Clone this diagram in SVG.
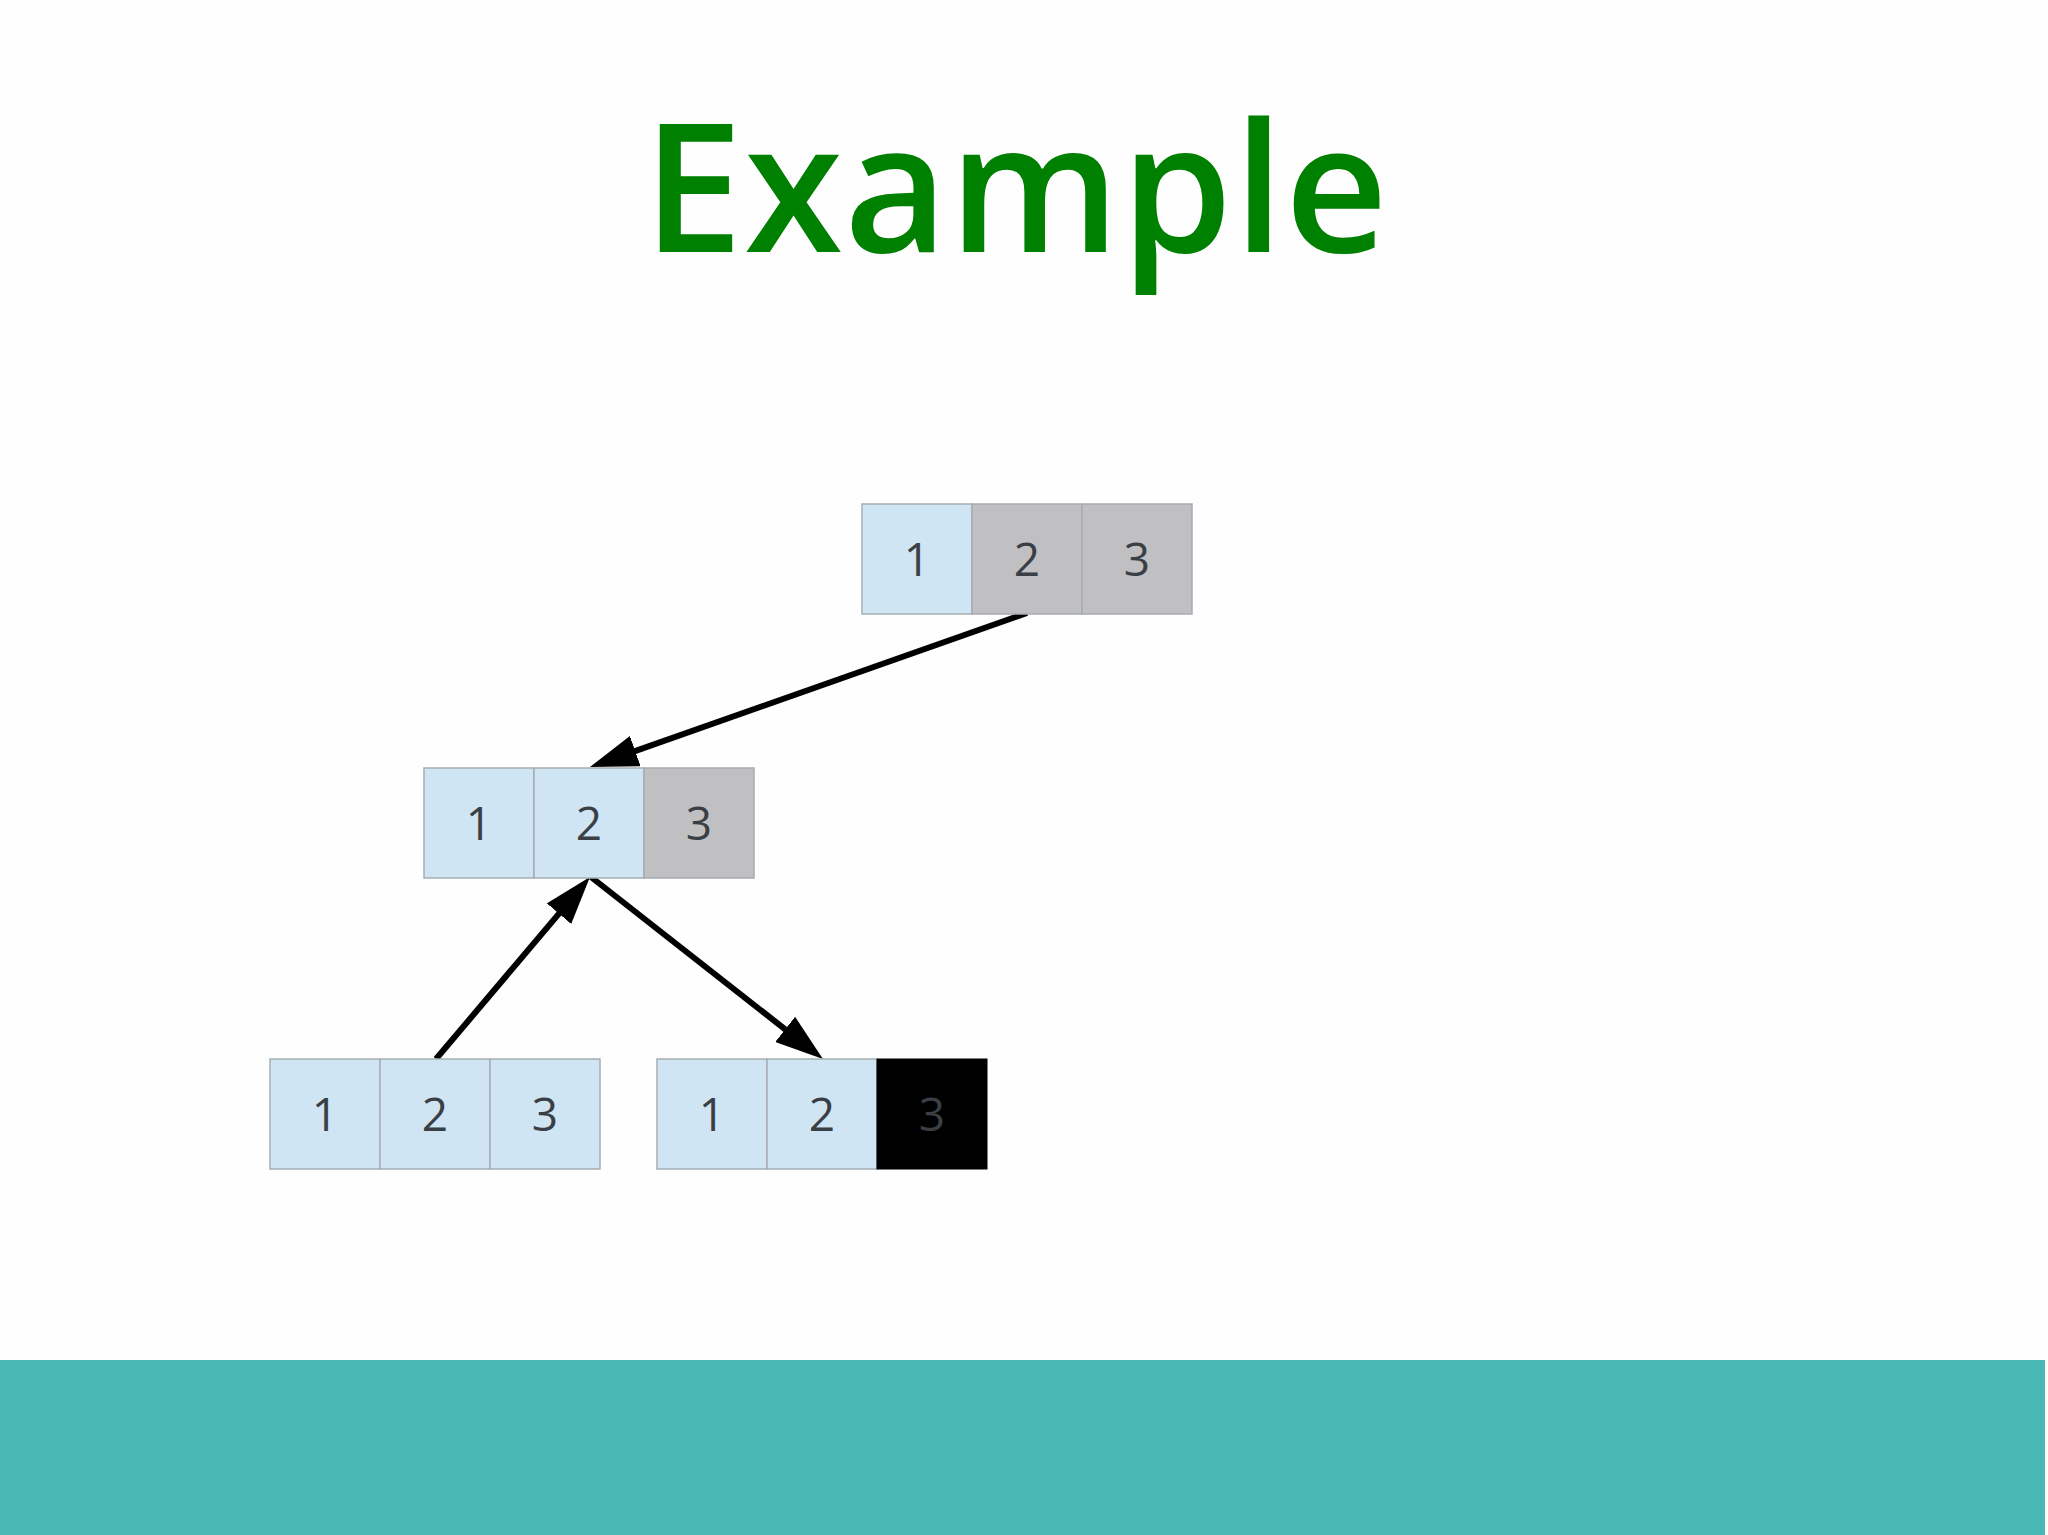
<svg xmlns="http://www.w3.org/2000/svg" width="2048" height="1535" viewBox="0 0 2048 1535">
<style>
.c{stroke:#a7adb3;stroke-width:1.5}
.b{fill:#cfe5f3}
.g{fill:#c0bfc1}
.k{fill:#000;stroke:#000}
.t{font-family:"Open Sans","DejaVu Sans",sans-serif;font-size:46px;fill:#3a3f45;text-anchor:middle}
.e{stroke:#000;stroke-width:6;fill:none;marker-end:url(#ah)}
</style>
<defs>
<marker id="ah" markerUnits="userSpaceOnUse" markerWidth="48" markerHeight="32" refX="38" refY="16" orient="auto" viewBox="0 0 48 32">
<path d="M0,0 L48,16 L0,32 z" fill="#000"/>
</marker>
</defs>
<rect width="2048" height="1535" fill="#fefefe"/>
<text x="643" y="252" font-family="'Open Sans','DejaVu Sans',sans-serif" font-weight="600" font-size="179" fill="#008000" textLength="745" lengthAdjust="spacing">Example</text>
<g id="connectors">
<line class="e" x1="1027" y1="613" x2="599.4" y2="763.7"/>
<line class="e" x1="436" y1="1059" x2="583.5" y2="884.6"/>
<line class="e" x1="591" y1="877" x2="815.1" y2="1052.8"/>
</g>
<g id="node-top">
<rect class="c b" x="862" y="504" width="110" height="110"/>
<rect class="c g" x="972" y="504" width="110" height="110"/>
<rect class="c g" x="1082" y="504" width="110" height="110"/>
<text class="t" x="917" y="576">1</text>
<text class="t" x="1027" y="576">2</text>
<text class="t" x="1137" y="576">3</text>
</g>
<g id="node-mid">
<rect class="c b" x="424" y="768" width="110" height="110"/>
<rect class="c b" x="534" y="768" width="110" height="110"/>
<rect class="c g" x="644" y="768" width="110" height="110"/>
<text class="t" x="479" y="840">1</text>
<text class="t" x="589" y="840">2</text>
<text class="t" x="699" y="840">3</text>
</g>
<g id="node-bottom-left">
<rect class="c b" x="270" y="1059" width="110" height="110"/>
<rect class="c b" x="380" y="1059" width="110" height="110"/>
<rect class="c b" x="490" y="1059" width="110" height="110"/>
<text class="t" x="325" y="1131">1</text>
<text class="t" x="435" y="1131">2</text>
<text class="t" x="545" y="1131">3</text>
</g>
<g id="node-bottom-right">
<rect class="c b" x="657" y="1059" width="110" height="110"/>
<rect class="c b" x="767" y="1059" width="110" height="110"/>
<rect class="k" x="877" y="1059" width="110" height="110"/>
<text class="t" x="712" y="1131">1</text>
<text class="t" x="822" y="1131">2</text>
<text class="t" x="932" y="1131">3</text>
</g>
<rect x="0" y="1360" width="2045" height="175" fill="#48b8b5"/>
</svg>
